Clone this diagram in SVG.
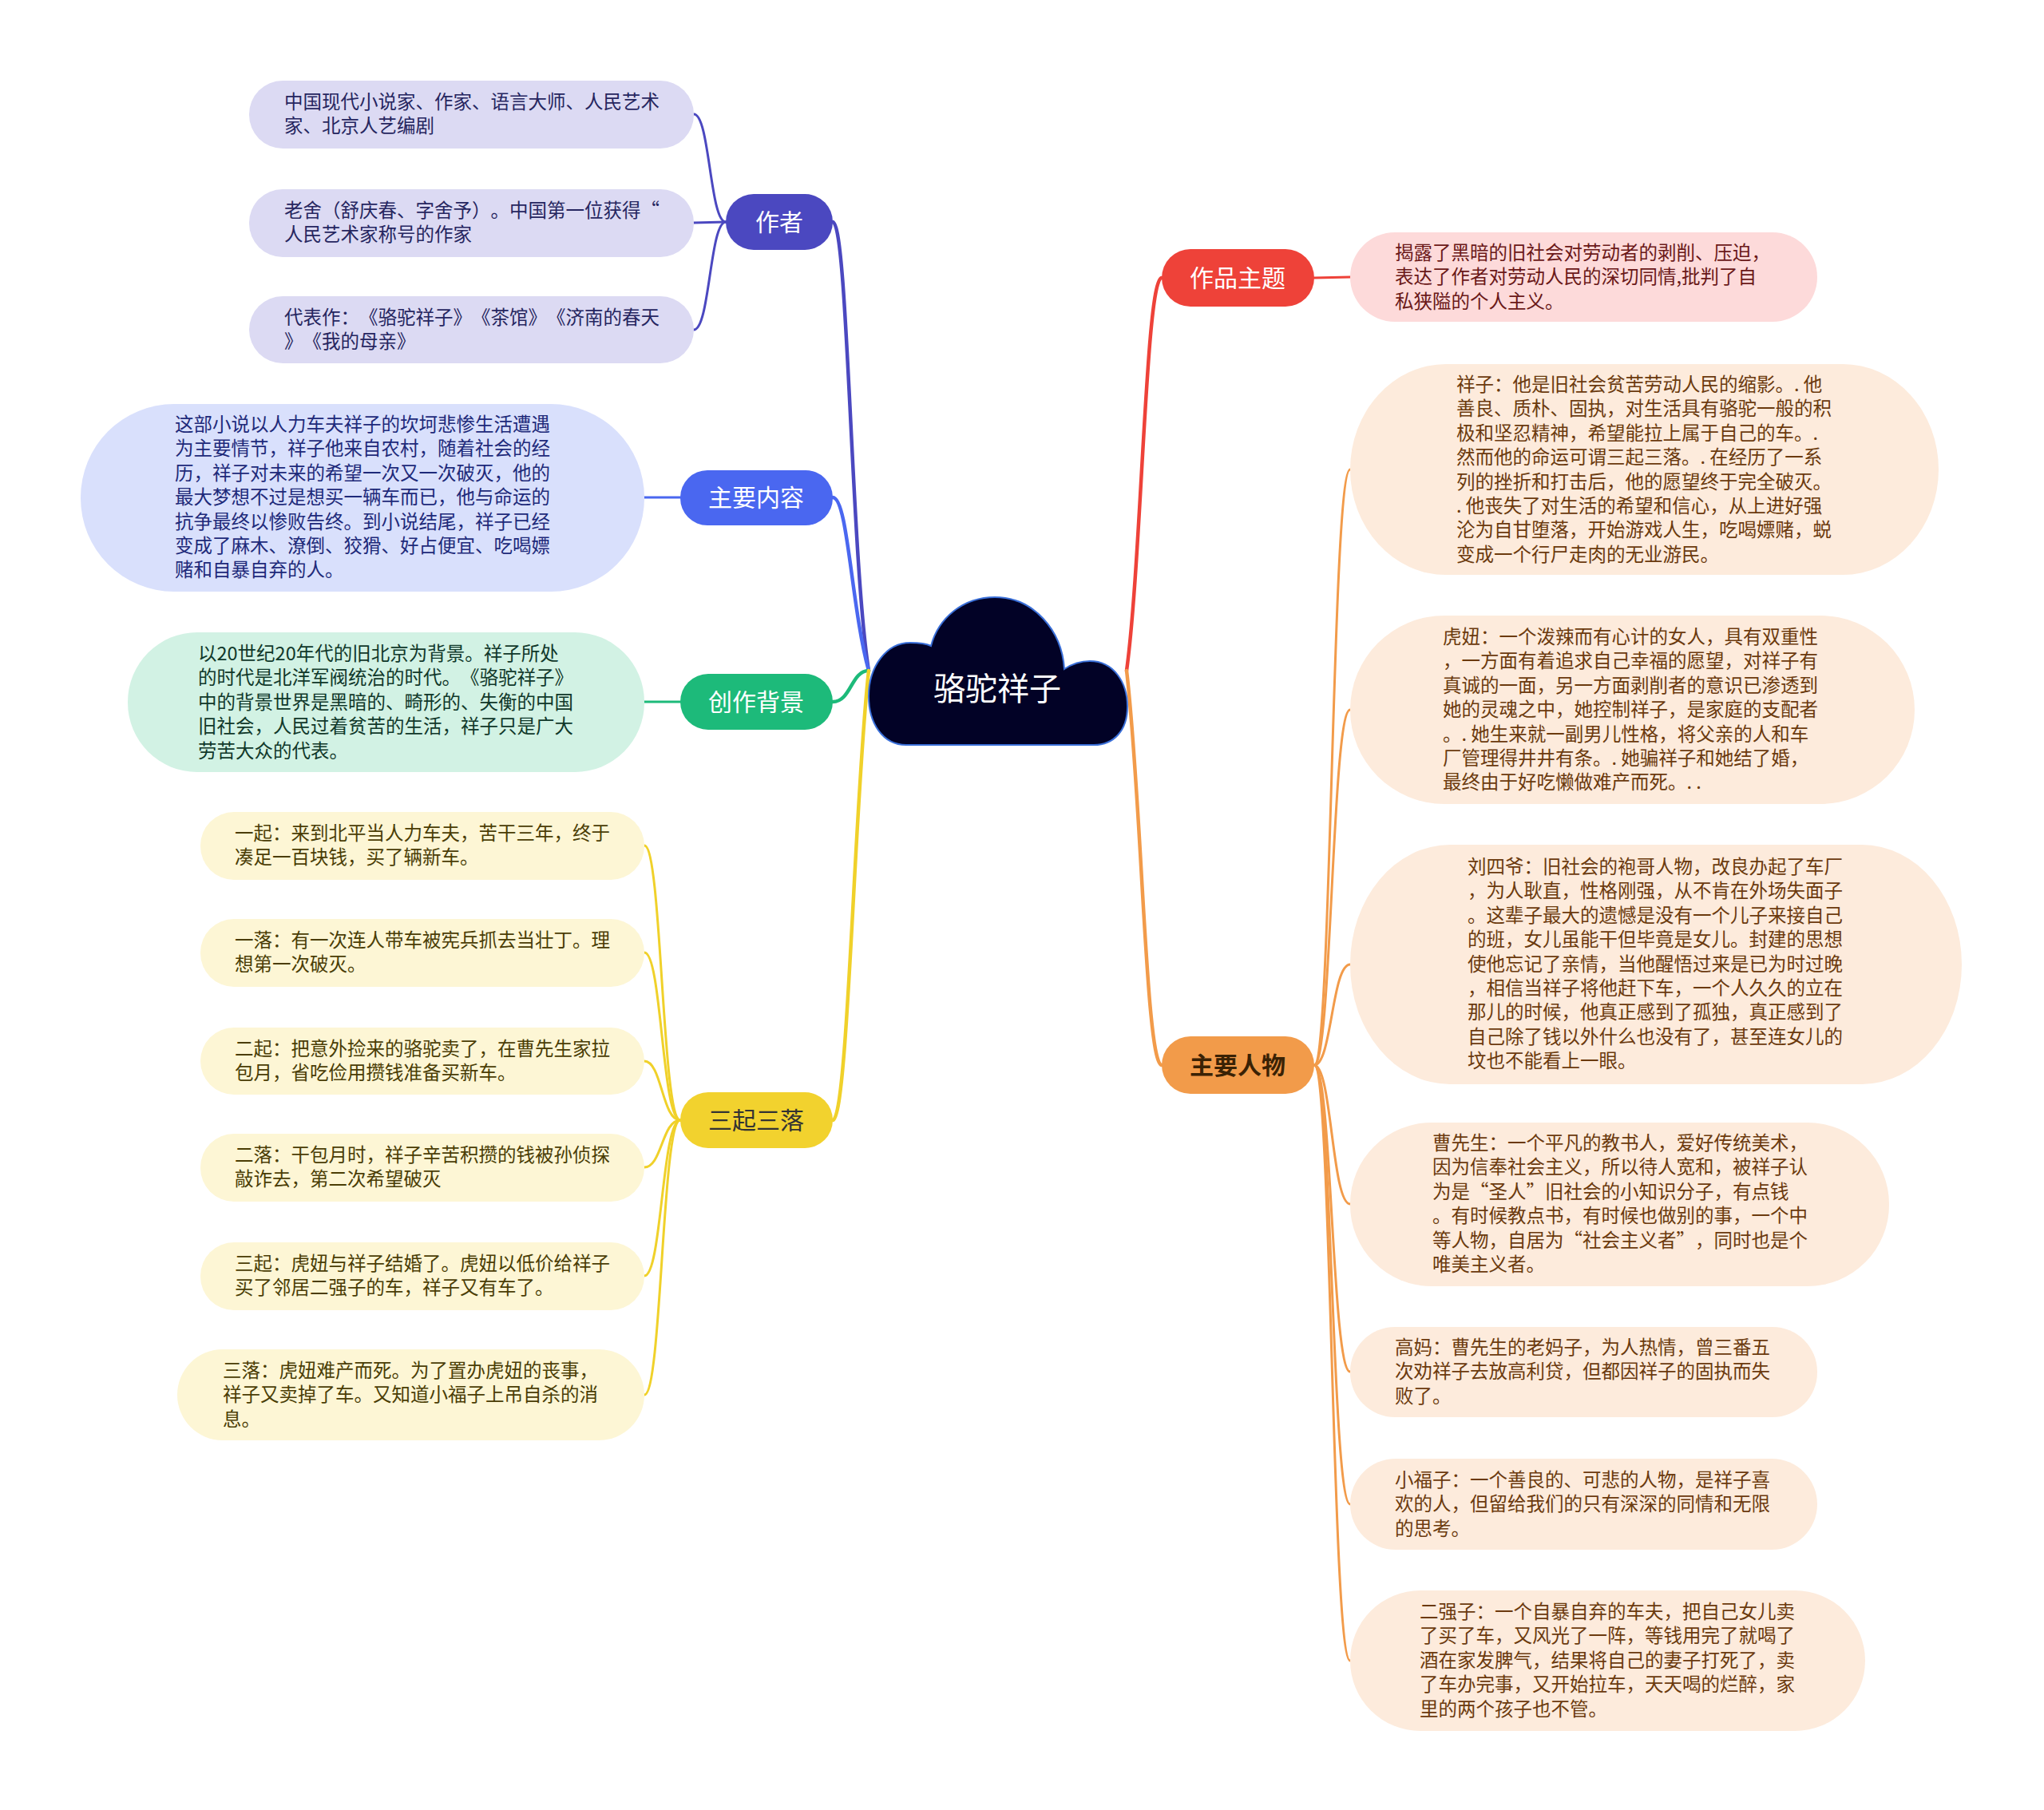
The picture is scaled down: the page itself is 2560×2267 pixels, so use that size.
<svg xmlns="http://www.w3.org/2000/svg" width="2560" height="2267" viewBox="0 0 2560 2267">
<style>
text{font-family:"Noto Sans CJK SC","Noto Sans",sans-serif;text-spacing-trim:space-all;}
.t{font-size:23.5px;}
.h{font-size:30px;text-anchor:middle;}
.lk{fill:none;stroke-linecap:round;}
.m{stroke-width:4.5;}
.s{stroke-width:3;}
</style>
<rect width="2560" height="2267" fill="#ffffff"/>
<g id="connectors">
<path class="lk m" stroke="#4b48c0" d="M1043 278 C1062 278,1066 700,1088 840"/>
<path class="lk m" stroke="#4a67f0" d="M1043 623 C1062 623,1066 760,1088 840"/>
<path class="lk m" stroke="#1dba7a" d="M1043 879 C1066 879,1066 840,1088 840"/>
<path class="lk m" stroke="#f0d12a" d="M1043 1403 C1062 1403,1070 1000,1088 840"/>
<path class="lk m" stroke="#ee4239" d="M1411 840 C1430 700,1435 348,1455 348"/>
<path class="lk m" stroke="#f29b4a" d="M1411 840 C1430 1000,1435 1334,1455 1334"/>
<path class="lk s" stroke="#4b48c0" d="M909 278 C889 278,889 143,869 143"/>
<path class="lk s" stroke="#4b48c0" d="M909 278 L869 279"/>
<path class="lk s" stroke="#4b48c0" d="M909 278 C889 278,889 413,869 413"/>
<path class="lk s" stroke="#4a67f0" d="M852 623 L807 623"/>
<path class="lk s" stroke="#1dba7a" d="M852 879 L807 879"/>
<path class="lk s" stroke="#f0d12a" d="M852 1403 C829 1403,829 1059,807 1059"/>
<path class="lk s" stroke="#f0d12a" d="M852 1403 C829 1403,829 1193,807 1193"/>
<path class="lk s" stroke="#f0d12a" d="M852 1403 C829 1403,829 1329,807 1329"/>
<path class="lk s" stroke="#f0d12a" d="M852 1403 C829 1403,829 1462,807 1462"/>
<path class="lk s" stroke="#f0d12a" d="M852 1403 C829 1403,829 1598,807 1598"/>
<path class="lk s" stroke="#f0d12a" d="M852 1403 C829 1403,829 1747,807 1747"/>
<path class="lk s" stroke="#ee4239" d="M1646 348 L1691 347"/>
<path class="lk s" stroke="#f29b4a" d="M1646 1334 C1668 1334,1668 588,1691 588"/>
<path class="lk s" stroke="#f29b4a" d="M1646 1334 C1668 1334,1668 889,1691 889"/>
<path class="lk s" stroke="#f29b4a" d="M1646 1334 C1668 1334,1668 1208,1691 1208"/>
<path class="lk s" stroke="#f29b4a" d="M1646 1334 C1668 1334,1668 1508,1691 1508"/>
<path class="lk s" stroke="#f29b4a" d="M1646 1334 C1668 1334,1668 1718,1691 1718"/>
<path class="lk s" stroke="#f29b4a" d="M1646 1334 C1668 1334,1668 1884,1691 1884"/>
<path class="lk s" stroke="#f29b4a" d="M1646 1334 C1668 1334,1668 2080,1691 2080"/>
</g>
<g id="root">
<path d="M1135 933 C1105 933,1088 905,1088 872 C1088 835,1110 805,1140 805 C1150 805,1160 806,1166 809 C1175 775,1205 748,1246 748 C1295 748,1330 790,1333 838 C1345 830,1355 828,1365 828 C1395 828,1412 855,1412 885 C1412 915,1395 933,1370 933 Z" fill="#020226" stroke="#3a6fd8" stroke-width="2"/>
<text x="1249" y="877" font-size="40" fill="#ffffff" text-anchor="middle">骆驼祥子</text>
</g>
<g id="n-zuozhe"><rect x="909" y="243" width="134" height="70" rx="35" fill="#4b48c0"/><text class="h" x="976" y="289" fill="#ffffff">作者</text></g>
<g id="n-zhuyaoneirong"><rect x="852" y="589" width="191" height="69" rx="34" fill="#4a67f0"/><text class="h" x="947" y="634" fill="#ffffff">主要内容</text></g>
<g id="n-chuangzuobeijing"><rect x="852" y="844" width="191" height="70" rx="35" fill="#1dba7a"/><text class="h" x="947" y="890" fill="#ffffff">创作背景</text></g>
<g id="n-sanqisanluo"><rect x="852" y="1368" width="191" height="70" rx="35" fill="#f2d22e"/><text class="h" x="947" y="1414" fill="#333333">三起三落</text></g>
<g id="n-zuopinzhuti"><rect x="1455" y="312" width="191" height="72" rx="36" fill="#ee4239"/><text class="h" x="1550" y="359" fill="#ffffff">作品主题</text></g>
<g id="n-zhuyaorenwu"><rect x="1455" y="1298" width="191" height="72" rx="36" fill="#f29b4a"/><text class="h" x="1550" y="1345" fill="#3a2205" font-weight="bold">主要人物</text></g>

<g id="l-zz1"><rect x="312" y="101" width="557" height="85" rx="42" fill="#dcdaf3"/><text class="t" fill="#262660" x="356" y="136">中国现代小说家、作家、语言大师、人民艺术<tspan x="356" dy="30.4">家、北京人艺编剧</tspan></text></g>
<g id="l-zz2"><rect x="312" y="237" width="557" height="85" rx="42" fill="#dcdaf3"/><text class="t" fill="#262660" x="356" y="272">老舍（舒庆春、字舍予）。中国第一位获得“<tspan x="356" dy="30.4">人民艺术家称号的作家</tspan></text></g>
<g id="l-zz3"><rect x="312" y="371" width="557" height="84" rx="42" fill="#dcdaf3"/><text class="t" fill="#262660" x="356" y="406">代表作：《骆驼祥子》《茶馆》《济南的春天<tspan x="356" dy="30.4">》《我的母亲》</tspan></text></g>

<g id="l-nr"><rect x="101" y="506" width="706" height="235" rx="117" fill="#d9e0fc"/><text class="t" fill="#1e2a7a" x="219" y="540">这部小说以人力车夫祥子的坎坷悲惨生活遭遇<tspan x="219" dy="30.4">为主要情节，祥子他来自农村，随着社会的经</tspan><tspan x="219" dy="30.4">历，祥子对未来的希望一次又一次破灭，他的</tspan><tspan x="219" dy="30.4">最大梦想不过是想买一辆车而已，他与命运的</tspan><tspan x="219" dy="30.4">抗争最终以惨败告终。到小说结尾，祥子已经</tspan><tspan x="219" dy="30.4">变成了麻木、潦倒、狡猾、好占便宜、吃喝嫖</tspan><tspan x="219" dy="30.4">赌和自暴自弃的人。</tspan></text></g>

<g id="l-bj"><rect x="160" y="792" width="647" height="175" rx="87" fill="#d2f2e4"/><text class="t" fill="#10382a" x="248" y="827">以20世纪20年代的旧北京为背景。祥子所处<tspan x="248" dy="30.4">的时代是北洋军阀统治的时代。《骆驼祥子》</tspan><tspan x="248" dy="30.4">中的背景世界是黑暗的、畸形的、失衡的中国</tspan><tspan x="248" dy="30.4">旧社会，人民过着贫苦的生活，祥子只是广大</tspan><tspan x="248" dy="30.4">劳苦大众的代表。</tspan></text></g>

<g id="l-sq1"><rect x="251" y="1017" width="556" height="85" rx="42" fill="#fdf6d5"/><text class="t" fill="#4a3d05" x="294" y="1052">一起：来到北平当人力车夫，苦干三年，终于<tspan x="294" dy="30.4">凑足一百块钱，买了辆新车。</tspan></text></g>
<g id="l-sq2"><rect x="251" y="1151" width="556" height="85" rx="42" fill="#fdf6d5"/><text class="t" fill="#4a3d05" x="294" y="1186">一落：有一次连人带车被宪兵抓去当壮丁。理<tspan x="294" dy="30.4">想第一次破灭。</tspan></text></g>
<g id="l-sq3"><rect x="251" y="1287" width="556" height="84" rx="42" fill="#fdf6d5"/><text class="t" fill="#4a3d05" x="294" y="1322">二起：把意外捡来的骆驼卖了，在曹先生家拉<tspan x="294" dy="30.4">包月，省吃俭用攒钱准备买新车。</tspan></text></g>
<g id="l-sq4"><rect x="251" y="1420" width="556" height="85" rx="42" fill="#fdf6d5"/><text class="t" fill="#4a3d05" x="294" y="1455">二落：干包月时，祥子辛苦积攒的钱被孙侦探<tspan x="294" dy="30.4">敲诈去，第二次希望破灭</tspan></text></g>
<g id="l-sq5"><rect x="251" y="1556" width="556" height="85" rx="42" fill="#fdf6d5"/><text class="t" fill="#4a3d05" x="294" y="1591">三起：虎妞与祥子结婚了。虎妞以低价给祥子<tspan x="294" dy="30.4">买了邻居二强子的车，祥子又有车了。</tspan></text></g>
<g id="l-sq6"><rect x="222" y="1690" width="585" height="114" rx="57" fill="#fdf6d5"/><text class="t" fill="#4a3d05" x="279" y="1725">三落：虎妞难产而死。为了置办虎妞的丧事，<tspan x="279" dy="30.4">祥子又卖掉了车。又知道小福子上吊自杀的消</tspan><tspan x="279" dy="30.4">息。</tspan></text></g>

<g id="l-zt"><rect x="1691" y="291" width="585" height="112" rx="56" fill="#fddada"/><text class="t" fill="#6a1818" x="1747" y="325">揭露了黑暗的旧社会对劳动者的剥削、压迫，<tspan x="1747" dy="30.4">表达了作者对劳动人民的深切同情,批判了自</tspan><tspan x="1747" dy="30.4">私狭隘的个人主义。</tspan></text></g>

<g id="l-xz"><rect x="1691" y="456" width="737" height="264" rx="120" ry="132" fill="#fdebdc"/><text class="t" fill="#6b3a0e" x="1824" y="490">祥子：他是旧社会贫苦劳动人民的缩影。. 他<tspan x="1824" dy="30.4">善良、质朴、固执，对生活具有骆驼一般的积</tspan><tspan x="1824" dy="30.4">极和坚忍精神，希望能拉上属于自己的车。.</tspan><tspan x="1824" dy="30.4">然而他的命运可谓三起三落。. 在经历了一系</tspan><tspan x="1824" dy="30.4">列的挫折和打击后，他的愿望终于完全破灭。</tspan><tspan x="1824" dy="30.4">. 他丧失了对生活的希望和信心，从上进好强</tspan><tspan x="1824" dy="30.4">沦为自甘堕落，开始游戏人生，吃喝嫖赌，蜕</tspan><tspan x="1824" dy="30.4">变成一个行尸走肉的无业游民。</tspan></text></g>

<g id="l-hn"><rect x="1691" y="771" width="707" height="236" rx="118" fill="#fdebdc"/><text class="t" fill="#6b3a0e" x="1807" y="806">虎妞：一个泼辣而有心计的女人，具有双重性<tspan x="1807" dy="30.4">，一方面有着追求自己幸福的愿望，对祥子有</tspan><tspan x="1807" dy="30.4">真诚的一面，另一方面剥削者的意识已渗透到</tspan><tspan x="1807" dy="30.4">她的灵魂之中，她控制祥子，是家庭的支配者</tspan><tspan x="1807" dy="30.4">。. 她生来就一副男儿性格，将父亲的人和车</tspan><tspan x="1807" dy="30.4">厂管理得井井有条。. 她骗祥子和她结了婚，</tspan><tspan x="1807" dy="30.4">最终由于好吃懒做难产而死。. .</tspan></text></g>

<g id="l-lsy"><rect x="1691" y="1058" width="766" height="300" rx="125" ry="150" fill="#fdebdc"/><text class="t" fill="#6b3a0e" x="1838" y="1094">刘四爷：旧社会的袍哥人物，改良办起了车厂<tspan x="1838" dy="30.4">，为人耿直，性格刚强，从不肯在外场失面子</tspan><tspan x="1838" dy="30.4">。这辈子最大的遗憾是没有一个儿子来接自己</tspan><tspan x="1838" dy="30.4">的班，女儿虽能干但毕竟是女儿。封建的思想</tspan><tspan x="1838" dy="30.4">使他忘记了亲情，当他醒悟过来是已为时过晚</tspan><tspan x="1838" dy="30.4">，相信当祥子将他赶下车，一个人久久的立在</tspan><tspan x="1838" dy="30.4">那儿的时候，他真正感到了孤独，真正感到了</tspan><tspan x="1838" dy="30.4">自己除了钱以外什么也没有了，甚至连女儿的</tspan><tspan x="1838" dy="30.4">坟也不能看上一眼。</tspan></text></g>

<g id="l-cxs"><rect x="1691" y="1406" width="675" height="205" rx="102" fill="#fdebdc"/><text class="t" fill="#6b3a0e" x="1794" y="1440">曹先生：一个平凡的教书人，爱好传统美术，<tspan x="1794" dy="30.4">因为信奉社会主义，所以待人宽和，被祥子认</tspan><tspan x="1794" dy="30.4">为是“圣人”旧社会的小知识分子，有点钱</tspan><tspan x="1794" dy="30.4">。有时候教点书，有时候也做别的事，一个中</tspan><tspan x="1794" dy="30.4">等人物，自居为“社会主义者”，同时也是个</tspan><tspan x="1794" dy="30.4">唯美主义者。</tspan></text></g>

<g id="l-gm"><rect x="1691" y="1662" width="585" height="113" rx="56" fill="#fdebdc"/><text class="t" fill="#6b3a0e" x="1747" y="1696">高妈：曹先生的老妈子，为人热情，曾三番五<tspan x="1747" dy="30.4">次劝祥子去放高利贷，但都因祥子的固执而失</tspan><tspan x="1747" dy="30.4">败了。</tspan></text></g>

<g id="l-xfz"><rect x="1691" y="1827" width="585" height="114" rx="57" fill="#fdebdc"/><text class="t" fill="#6b3a0e" x="1747" y="1862">小福子：一个善良的、可悲的人物，是祥子喜<tspan x="1747" dy="30.4">欢的人，但留给我们的只有深深的同情和无限</tspan><tspan x="1747" dy="30.4">的思考。</tspan></text></g>

<g id="l-eqz"><rect x="1691" y="1992" width="645" height="176" rx="88" fill="#fdebdc"/><text class="t" fill="#6b3a0e" x="1778" y="2027">二强子：一个自暴自弃的车夫，把自己女儿卖<tspan x="1778" dy="30.4">了买了车，又风光了一阵，等钱用完了就喝了</tspan><tspan x="1778" dy="30.4">酒在家发脾气，结果将自己的妻子打死了，卖</tspan><tspan x="1778" dy="30.4">了车办完事，又开始拉车，天天喝的烂醉，家</tspan><tspan x="1778" dy="30.4">里的两个孩子也不管。</tspan></text></g>
</svg>
